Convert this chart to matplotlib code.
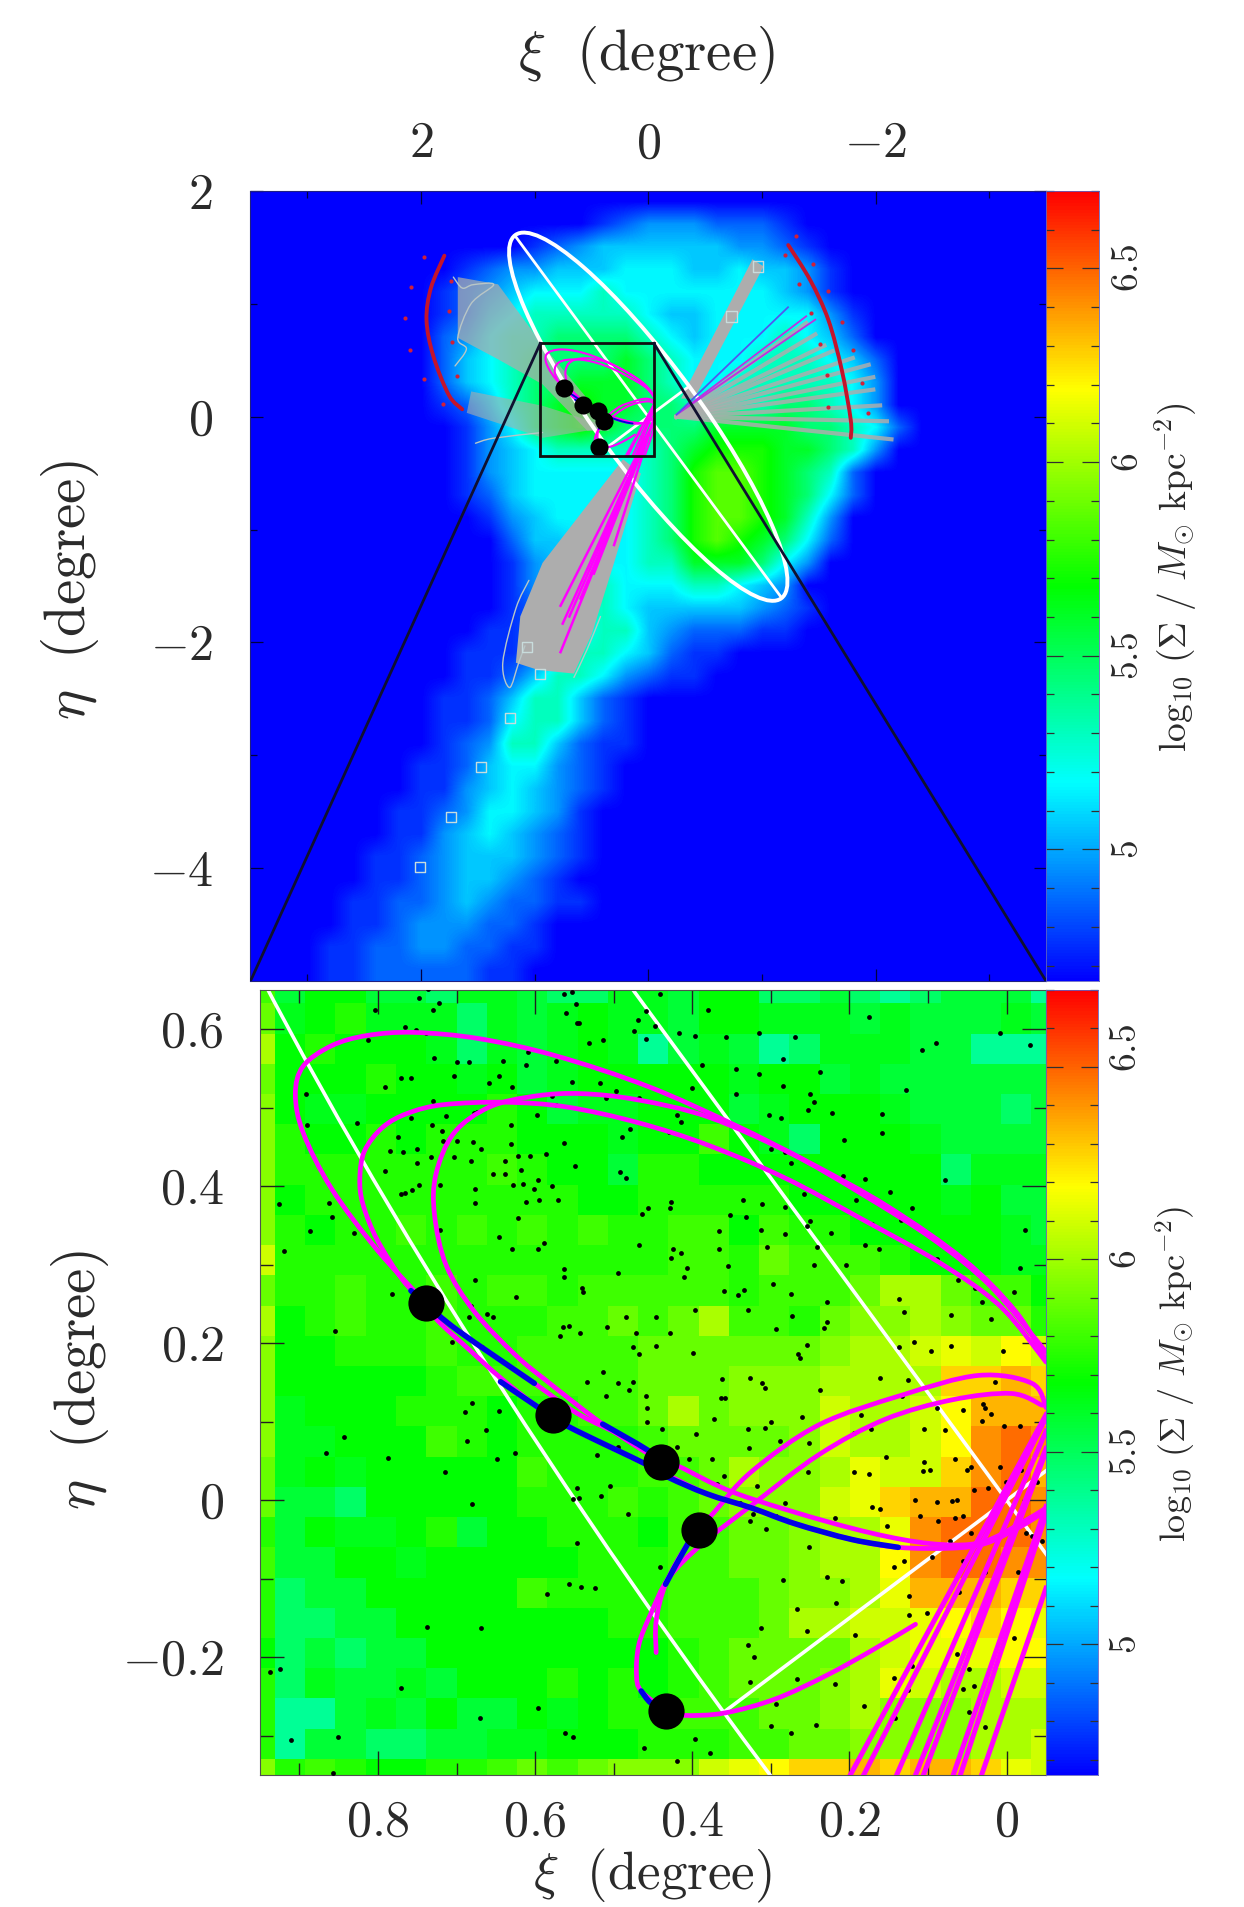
import numpy as np
import matplotlib
matplotlib.use("Agg")
import matplotlib.pyplot as plt
from matplotlib.colors import LinearSegmentedColormap
from matplotlib.patches import Ellipse, PathPatch, Polygon, Rectangle
from matplotlib.path import Path
from matplotlib.ticker import FixedLocator

plt.rcParams['mathtext.fontset'] = 'cm'
plt.rcParams['font.family'] = ['cmr10', 'DejaVu Sans']
plt.rcParams['axes.formatter.use_mathtext'] = True

# ---------------- colour scale ----------------
SIGMA_MIN, SIGMA_MAX = 4.66, 6.70
BAR_TICKS = [5, 5.5, 6, 6.5]
BAR_MINOR = [4.7, 4.8, 4.9, 5.1, 5.2, 5.3, 5.4, 5.6, 5.7, 5.8, 5.9, 6.1, 6.2, 6.3, 6.4, 6.6, 6.7]

# ---------------- wide panel: log10 surface density on a 0.2 deg grid, digits decode through WIDE_LEVELS ----------------
WIDE_LEVELS = {'0': 4.66, '1': 4.76, '2': 4.86, '3': 4.96, '4': 5.06, '5': 5.16, '6': 5.30,
               '7': 5.45, '8': 5.60, '9': 5.72, 'A': 5.85, 'B': 5.95}
WIDE_ROWS = [
    "",
    "000000000000000123332221",
    "0000000000001234444443321",
    "00000000012334445554454431",
    "00000000123455565555555431",
    "000000001245666665445555531",
    "000000002356677776545556542",
    "0000000024567777876555666542",
    "0000000024567788876556666653",
    "0000000012467898877666677653",
    "00000000013578987777888877652",
    "0000000001345666667899988763",
    "000000000134555556 79AA98762".replace(" ", ""),
    "000000000124555556 79AA98752".replace(" ", ""),
    "00000000001345555 679AA9863".replace(" ", ""),
    "00000000000244555 679A98752".replace(" ", ""),
    "0000000000013455566888753",
    "000000000001345655566543",
    "0000000000012456544444321",
    "000000000011245664322211",
    "000000000111246654211",
    "00000000011246653211",
    "00000000112466421",
    "00000000112566421",
    "000000001236642110",
    "0000000112455321",
    "0000000113454321",
    "000000112355431",
    "000000113454321",
    "000001123444321",
    "00000112344321",
    "000011223432211",
    "0000112333221",
    "000112233221 1".replace(" ", ""),
    "000112222211",
]

# ---------------- zoom panel: log10 surface density cells ----------------
ZOOM_LEVELS = {'a': 5.38, 'b': 5.48, 'c': 5.57, 'd': 5.63, 'e': 5.68, 'f': 5.75, 'g': 5.80, 'h': 5.88,
               'i': 5.95, 'j': 6.02, 'k': 6.09, 'l': 6.15, 'm': 6.19, 'n': 6.27, 'o': 6.34, 'p': 6.41, 'q': 6.48}
ZOOM_ROWS = [
    "gceeccbddcbbdd" + "ceebbcbabccca",
    "hdefdddbdcdedd" + "ceedddcdcccdc",
    "jefeeedbdcdeda" + "cdcabdddccaaa",
    "heeefeedecdeee" + "eedeecdcccccc",
    "ieddeeeefecdde" + "eecdeeedcccbc",
    "ifeefefffeeede" + "egedbeeedcccc",
    "ifffffffgfeecf" + "feeeeeeeebddd",
    "iefffffffffeef" + "ffffeeeeedecc",
    "ifeffgfgfgfgff" + "ggegffeeeeedc",
    "kfffffffffffff" + "ggfhgggfeeedd",
    "hffgffgfggfggg" + "ggfggghjjhgge",
    "jefgffgfffgghg" + "hjggfhiijihhf",
    "ieefffgffggggh" + "hhhhhijjklkmk",
    "ieeeeefggggggh" + "hhiiijjjjnnon",
    "ideeefffeffggh" + "jhiiikjjkmooo",
    "iddeeegfeffffg" + "hhhhikjjkmpqp",
    "hdedeeeeegfffg" + "ghjiijlkknpqo",
    "hccbeeeeefffgf" + "ghiiiklnooqqp",
    "fceddefceefffe" + "gghhijjlpqqqp",
    "gcceedeeeeefff" + "gghhijjmpqqpp",
    "fbcceeeeegffff" + "ggghiijlooonn",
    "fbbcceeeeeeeff" + "ggghjjkklmnml",
    "ebcbcceeeeeeee" + "fghhhhjklllmm",
    "fbdccdceeefefe" + "fghhhijlkjjkk",
    "faacdcecce" + "deff" + "ggghhijiiijjj",
    "faccbbccddeeef" + "ffgghhiiiijjk",
    "ifgfeeffghghii" + "iklmnnonoonlk",
]
ZOOM_XI_EDGES = [0.95] + [round(0.931 - 0.0385 * k, 4) for k in range(26)] + [-0.05]
ZOOM_ETA_EDGES = [0.65] + [round(0.633 - 0.0385 * k, 4) for k in range(26)] + [-0.35]

# ---------------- tilted disc outline ----------------
DISC_CENTRE = (0.0, 0.0)
DISC_MAJOR, DISC_MINOR, DISC_ANGLE = 3.98, 0.90, 54.0
MAJOR_AXIS_XI, MAJOR_AXIS_ETA = [1.17, -1.17], [1.60, -1.60]
MINOR_AXIS_XI, MINOR_AXIS_ETA = [0.36, -0.36], [-0.27, 0.27]

# ---------------- black clumps ----------------
CLUMP_XI = [0.739, 0.577, 0.440, 0.392, 0.434]
CLUMP_ETA = [0.251, 0.108, 0.049, -0.038, -0.268]

# ---------------- orbits (magenta) ----------------
ORBIT_A = [(.739,.251),(.801,.319),(.859,.397),(.895,.468),(.905,.517),(.895,.553),(.859,.579),(.814,.592),(.755,.596),
           (.671,.588),(.573,.566),(.456,.527),(.346,.478),(.249,.429),(.151,.374),(.054,.306),(-.011,.241),(-.05,.179)]
ORBIT_B = [(.440,.049),(.484,.079),(.547,.111),(.601,.149),(.698,.216),(.739,.251),(.768,.280),(.801,.332),(.819,.377),(.823,.410),
           (.817,.445),(.794,.475),(.762,.493),(.716,.504),(.638,.507),(.560,.501),(.469,.481),(.379,.452),(.281,.410),(.184,.358),
           (.086,.303),(.008,.247),(-.05,.176)]
ORBIT_C = [(.440,.049),(.514,.097),(.584,.151),(.625,.185),(.677,.240),(.713,.299),(.728,.364),(.726,.416),(.703,.468),(.658,.501),
           (.599,.515),(.541,.518),(.469,.510),(.379,.488),(.275,.442),(.184,.390),(.093,.332),(.021,.273),(-.05,.189)]
ORBIT_U = [(.440,.049),(.417,.043),(.345,.009),(.222,-.029),(.133,-.050),(.069,-.057),(.027,-.052),(-.015,-.031),(-.053,-.008)]
ORBIT_L = [(.739,.251),(.724,.229),(.684,.192),(.644,.156),(.597,.119),(.558,.094),(.457,.045),(.381,.008),(.324,-.010),
           (.269,-.030),(.197,-.050),(.138,-.060),(.069,-.061),(.027,-.055),(-.015,-.035),(-.053,-.012)]
ORBIT_E = [(.446,-.194),(.446,-.154),(.434,-.107),(.406,-.056),(.371,-.014),(.324,.037),(.239,.096),(.133,.134),(.036,.159),
           (-.032,.149),(-.05,.118)]
ORBIT_F = [(.434,-.268),(.465,-.243),(.471,-.222),(.468,-.184),(.453,-.145),(.430,-.099),(.388,-.056),(.324,-.006),(.239,.058),
           (.155,.103),(.069,.128),(-.006,.136),(-.045,.121)]
ORBIT_G = [(.434,-.268),(.411,-.274),(.359,-.271),(.294,-.253),(.229,-.223),(.171,-.191),(.116,-.158)]
ORBITS = [ORBIT_A, ORBIT_B, ORBIT_C, ORBIT_U, ORBIT_L, ORBIT_E, ORBIT_F, ORBIT_G]

# straight stream-bound tracks: near the centre to the panel floor
TRACK_BOTTOM_XI = [.199, .182, .140, .116, .106, .068, .059, .032]
TRACK_BOTTOM_ETA = [-.35] * 8
TRACK_TOP_XI = [-.05] * 8
TRACK_TOP_ETA = [.109, .105, .088, .066, .062, -.008, -.018, -.112]

# ---------------- blue stretches ----------------
BLUE_1 = [(.758,.267),(.739,.250),(.698,.216),(.601,.149)]
BLUE_2 = [(.644,.151),(.597,.119),(.558,.094),(.457,.045),(.430,.029),(.381,.008),(.324,-.010),(.269,-.030),(.197,-.050),(.138,-.060)]
BLUE_3 = [(.514,.097),(.457,.064),(.440,.049)]
BLUE_4 = [(.392,-.038),(.406,-.056),(.434,-.107)]
BLUE_5 = [(.465,-.243),(.453,-.258),(.434,-.268)]
BLUES = [BLUE_1, BLUE_2, BLUE_3, BLUE_4, BLUE_5]

# ---------------- wide panel overlays ----------------
GRAY_STREAM = [(.222,-.377),(.93,-1.295),(1.126,-1.77),(1.165,-2.18),(.969,-2.244),(.654,-2.276),(.497,-1.928),(.301,-1.295),(.065,-.504)]
GRAY_UPPER_LEFT = [(1.676,1.237),(1.322,1.173),(.93,.635),(.537,.161),(.34,-.124),(.537,-.124),(.93,.287),(1.322,.509),(1.676,.699)]
GRAY_LOWER_LEFT = [(1.597,.034),(1.558,.224),(.93,.097),(.34,-.092),(.93,-.187)]
GRAY_UPPER_RIGHT = [(-.289,.161),(-.917,1.395),(-1.015,1.332),(-.406,.161)]
GRAYS = [(GRAY_STREAM, 1.0), (GRAY_UPPER_LEFT, 0.72), (GRAY_LOWER_LEFT, 0.6), (GRAY_UPPER_RIGHT, 1.0)]

RAY_START_XI, RAY_START_ETA = -.25, -.0
RAY_END_XI = [-1.39, -1.47, -1.55, -1.62, -1.80, -1.94, -1.98, -1.98, -2.04, -2.10, -2.14]
RAY_END_ETA = [.83, .73, .63, .58, .52, .46, .35, .24, .10, -.04, -.20]

OUTLINE_1 = [(1.05,-1.45),(1.165,-1.70),(1.28,-2.18),(1.22,-2.40),(1.14,-2.18),(1.085,-2.03)]
OUTLINE_2 = [(.42,-1.77),(.537,-2.06),(.654,-2.31)]
OUTLINE_3 = [(1.715,1.237),(1.636,1.14),(1.54,1.17),(1.36,1.17),(1.56,1.0),(1.676,.699),(1.60,.60),(1.70,.45)]
OUTLINE_4 = [(1.52,-.235),(1.36,-.19),(.93,-.14)]
OUTLINES = [OUTLINE_1, OUTLINE_2, OUTLINE_3, OUTLINE_4]

STREAM_TRACK_START = (-.033, -.077)
STREAM_TRACK_END_XI = [.772, .753, .694, .596, .478, .301, .772]
STREAM_TRACK_END_ETA = [-1.675, -1.833, -1.77, -1.611, -1.39, -1.137, -2.086]
NE_TRACK_START = (-.25, .02)
NE_MAGENTA_END_XI = [-1.39, -1.47]
NE_MAGENTA_END_ETA = [.89, .86]
NE_BLUE_END = (-1.23, .97)

RED_ARC_LEFT = [(1.794,1.427),(1.912,1.142),(1.951,.857),(1.892,.54),(1.755,.192),(1.637,.066)]
RED_ARC_RIGHT = [(-1.232,1.521),(-1.428,1.205),(-1.585,.857),(-1.703,.414),(-1.782,-.029),(-1.782,-.187)]
RED_DOT_XI = [1.971,2.089,2.14,2.096,1.971,1.802,1.735,1.755,1.723,1.684,
              -1.302,-1.204,-1.448,-1.33,-1.585,-1.428,-1.703,-1.514,-1.801,-1.577,-1.88,-1.585,-1.931]
RED_DOT_ETA = [1.411,1.148,.873,.588,.335,.113,1.205,.936,.658,.36,
               1.601,1.436,1.357,1.18,1.11,.92,.841,.645,.588,.366,.303,.082,.034]
SQUARE_XI = [1.069,.952,1.216,1.474,1.738,2.008,-.968,-.733]
SQUARE_ETA = [-2.042,-2.278,-2.671,-3.105,-3.547,-3.99,1.332,.889]

BOX_XI, BOX_ETA = (0.95, -0.05), (-0.35, 0.65)

# ---------------- small points of the zoom panel, in 0.001 deg (xi, eta) ----------------
STARS_MDEG = [(736,651),(748,640),(722,634),(730,624),(804,624),(739,595),(752,599),(765,603),(813,586),(892,517),(890,478),(827,480),
(791,527),(771,538),(758,538),(703,540),(729,564),(700,558),(684,558),(641,560),(646,541),(609,571),(612,554),(574,560),(659,531),
(630,527),(553,533),(518,532),(497,521),(468,512),(510,512),(579,515),(573,504),(674,495),(678,493),(730,508),(758,487),(713,489),
(597,491),(631,478),(731,478),(719,470),(774,463),(717,458),(700,458),(679,457),(669,447),(784,445),(768,443),(750,447),(631,454),
(622,439),(607,439),(586,441),(563,455),(479,473),(490,463),(430,469),(414,482),(420,491),(703,437),(732,437),(682,432),(750,430),
(791,419),(748,401),(721,401),(756,395),(771,390),(765,391),(677,396),(677,379),(638,432),(638,416),(654,415),(618,421),(628,402),
(615,403),(596,408),(601,396),(579,400),(571,383),(595,382),(612,380),(622,359),(549,426),(492,418),(484,411),(456,372),(464,365),
(427,380),(429,372),(396,592),(417,595),(459,587),(474,598),(514,586),(531,582),(561,621),(547,608),(544,608),(469,612),(459,623),
(448,604),(441,645),(380,624),(563,645),(553,647),(548,632),(357,590),(315,595),(269,590),(175,616),(108,574),(90,582),(9,595),
(-30,580),(388,554),(344,549),(315,543),(285,562),(238,546),(285,528),(345,517),(401,525),(250,517),(245,507),(253,497),(303,491),
(287,487),(222,493),(159,492),(159,468),(128,523),(207,459),(300,448),(282,443),(274,429),(180,409),(208,413),(79,408),(149,393),
(121,372),(258,390),(311,377),(336,383),(352,364),(332,361),(282,374),(250,356),(254,349),(366,343),(312,344),(282,339),(223,340),
(192,382),(171,352),(134,357),(-23,344),(241,322),(305,322),(366,320),(180,325),(162,320),(204,300),(245,300),(89,307),(-17,296),
(62,280),(40,270),(-9,265),(32,252),(137,257),(131,240),(71,236),(20,231),(228,253),(228,227),(274,263),(273,235),(297,275),(334,268),
(342,261),(360,266),(329,242),(293,218),(232,220),(355,299),(427,309),(414,315),(425,320),(407,296),(410,285),(468,325),(494,289),
(563,294),(563,284),(540,270),(539,265),(624,259),(565,221),(557,222),(543,213),(568,209),(508,221),(484,234),(472,213),(446,234),
(446,197),(428,213),(396,242),(399,187),(137,195),(118,201),(96,190),(71,197),(5,190),(263,181),(266,186),(254,198),(475,195),(468,186),
(677,280),(682,247),(684,234),(661,237),(654,234),(782,263),(854,216),(706,201),(667,195),(926,377),(862,379),(859,361),(886,343),
(919,318),(831,341),(721,344),(646,335),(630,320),(589,328),(596,320),(514,164),(495,149),(534,151),(475,151),(510,133),(481,140),
(459,133),(457,118),(458,100),(438,91),(395,84),(420,68),(373,104),(364,130),(358,130),(362,155),(326,156),(311,149),(308,143),(300,100),
(308,92),(260,106),(238,140),(251,73),(288,75),(328,67),(329,91),(375,53),(404,52),(360,31),(318,18),(253,36),(194,86),(173,91),(185,109),
(161,156),(126,153),(133,133),(89,117),(56,115),(15,151),(30,123),(27,118),(20,110),(32,101),(4,94),(79,89),(105,91),(-17,95),(105,49),
(98,38),(106,37),(154,55),(194,36),(175,34),(66,53),(46,42),(50,39),(9,42),(1,23),(-18,39),(-38,23),(69,-1),(63,0),(89,-2),(117,0),
(110,-20),(87,-26),(66,-23),(56,-20),(41,13),(24,16),(171,-8),(161,-11),(152,-33),(219,-23),(251,-60),(282,-3),(294,-20),(323,-18),
(326,-27),(306,-36),(271,-29),(339,-3),(368,21),(482,-18),(547,-54),(552,2),(544,3),(547,15),(516,5),(505,18),(521,58),(495,68),(625,60),
(648,52),(680,-5),(714,36),(787,54),(866,60),(843,81),(687,76),(663,90),(646,114),(689,112),(680,124),(441,-85),(285,-102),(228,-98),
(210,-103),(217,-131),(267,-138),(313,-163),(254,-166),(193,-172),(329,-185),(321,-200),(326,-231),(267,-228),(219,-234),(293,-260),
(181,-262),(142,-278),(243,-286),(274,-297),(300,-287),(124,-122),(124,-146),(102,-143),(121,-211),(144,-226),(126,-242),(63,-196),
(48,-215),(56,-240),(48,-270),(42,-237),(-9,-176),(27,-289),(61,-117),(-15,-91),(27,-91),(56,-78),(95,-72),(131,-78),(144,-85),(46,-42),
(72,-52),(-4,-55),(-25,-42),(-32,-46),(-45,-52),(937,-219),(924,-215),(911,-306),(851,-301),(771,-239),(670,-278),(596,-265),(562,-296),
(552,-301),(462,-315),(420,-332),(397,-304),(378,-322),(857,-348),(737,-161),(669,-163),(585,-120),(557,-107),(542,-110),(524,-112)]

XI_LABEL = r'$\xi\ \ (\mathrm{degree})$'
ETA_LABEL = r'$\eta\ \ (\mathrm{degree})$'
BAR_LABEL = r'$\log_{10}\,(\Sigma\ /\ M_{\odot}\ \mathrm{kpc}^{-2})$'

# ---------------- helpers ----------------
W, H = 1244, 1907
def box(l, t, r, b):
    return [l / W, 1 - b / H, (r - l) / W, (b - t) / H]

def curve(ax, pts, **kw):
    p = np.asarray(pts, float)
    q = np.vstack([p[0], p, p[-1]])
    verts, codes = [tuple(p[0])], [Path.MOVETO]
    for i in range(1, len(q) - 2):
        c1 = q[i] + (q[i + 1] - q[i - 1]) / 6
        c2 = q[i + 1] - (q[i + 2] - q[i]) / 6
        verts += [tuple(c1), tuple(c2), tuple(q[i + 1])]
        codes += [Path.CURVE4] * 3
    ax.add_patch(PathPatch(Path(verts, codes), fill=False, capstyle='round', joinstyle='round', **kw))

cmap = LinearSegmentedColormap.from_list('rb', ['#0000ff', '#00ffff', '#00ff00', '#ffff00', '#ff0000'], N=256)
FS = 36
TEXT = '#2a2a2a'

fig = plt.figure(figsize=(W / 100, H / 100), dpi=100, facecolor='white')

# ---------------- wide panel ----------------
ax = fig.add_axes(box(250.5, 191, 1046, 981))
grid = np.array([[WIDE_LEVELS[ch] for ch in r.ljust(35, '0')[:35]] for r in WIDE_ROWS])
ax.imshow(grid, extent=(3.5, -3.5, -5, 2), origin='upper', cmap=cmap, vmin=SIGMA_MIN, vmax=SIGMA_MAX,
          interpolation='bilinear', aspect='auto', zorder=1)
for g, a in GRAYS:
    ax.add_patch(Polygon(g, closed=True, fc='#adadad', ec='none', alpha=a, zorder=2))
for xe, ye in zip(RAY_END_XI, RAY_END_ETA):
    ax.plot([RAY_START_XI, xe], [RAY_START_ETA, ye], color='#adadad', lw=3.0, alpha=.85, zorder=2)
for o in OUTLINES:
    curve(ax, o, ec='#b9c6c6', lw=1.0, zorder=2)
ax.scatter(SQUARE_XI, SQUARE_ETA, marker='s', s=55, facecolors='none', edgecolors='#c8dcdc', linewidths=1.0, zorder=3)
ax.add_patch(Ellipse(DISC_CENTRE, DISC_MAJOR, DISC_MINOR, angle=DISC_ANGLE, fill=False, ec='white', lw=2.8, zorder=4))
ax.plot(MAJOR_AXIS_XI, MAJOR_AXIS_ETA, color='white', lw=2, zorder=4)
ax.plot(MINOR_AXIS_XI, MINOR_AXIS_ETA, color='white', lw=2, zorder=4)
curve(ax, RED_ARC_LEFT, ec='#c4142c', lw=2.8, zorder=5)
curve(ax, RED_ARC_RIGHT, ec='#c4142c', lw=2.8, zorder=5)
ax.scatter(RED_DOT_XI, RED_DOT_ETA, s=9, color='#d0203a', zorder=5, linewidths=0)
for o in ORBITS:
    curve(ax, o, ec='#ff00ff', lw=1.5, zorder=6)
for xe, ye in zip(STREAM_TRACK_END_XI, STREAM_TRACK_END_ETA):
    ax.plot([STREAM_TRACK_START[0], xe], [STREAM_TRACK_START[1], ye], color='#ff00ff', lw=1.8, zorder=6)
for xb, yb, xt, yt in zip(TRACK_BOTTOM_XI, TRACK_BOTTOM_ETA, TRACK_TOP_XI, TRACK_TOP_ETA):
    ax.plot([xb, xt], [yb, yt], color='#ff00ff', lw=1.5, zorder=6)
for xe, ye in zip(NE_MAGENTA_END_XI, NE_MAGENTA_END_ETA):
    ax.plot([NE_TRACK_START[0], xe], [NE_TRACK_START[1], ye], color='#c030e0', lw=1.3, zorder=6)
ax.plot([NE_TRACK_START[0], NE_BLUE_END[0]], [NE_TRACK_START[1], NE_BLUE_END[1]], color='#5058f0', lw=1.3, zorder=6)
for b in BLUES:
    curve(ax, b, ec='#0000e0', lw=1.4, zorder=7)
ax.scatter(CLUMP_XI, CLUMP_ETA, s=170, color='black', zorder=8, linewidths=0)
ax.add_patch(Rectangle((BOX_XI[1], BOX_ETA[0]), BOX_XI[0] - BOX_XI[1], BOX_ETA[1] - BOX_ETA[0],
                       fill=False, ec='#101010', lw=2.0, zorder=9))
ax.plot([BOX_XI[0], 3.5], [BOX_ETA[1], -5], color='#101030', lw=2.0, zorder=9)
ax.plot([BOX_XI[1], -3.5], [BOX_ETA[1], -5], color='#101030', lw=2.0, zorder=9)
ax.set_xlim(3.5, -3.5); ax.set_ylim(-5, 2)
ax.set_xticks([2, 0, -2]); ax.set_xticklabels([r'$2$', r'$0$', r'$-2$'], color=TEXT)
ax.set_yticks([2, 0, -2, -4]); ax.set_yticklabels([r'$2$', r'$0$', r'$-2$', r'$-4$'], color=TEXT)
ax.xaxis.set_minor_locator(FixedLocator([3, 1, -1, -3]))
ax.yaxis.set_minor_locator(FixedLocator([1, -1, -3]))
ax.tick_params(which='both', direction='in', top=True, right=True, bottom=True, left=True, labeltop=True, labelbottom=False,
               color='#000040', width=0.9)
ax.tick_params(which='major', length=9, labelsize=FS)
ax.tick_params(axis='x', which='major', pad=17)
ax.tick_params(axis='y', which='major', pad=27)
ax.tick_params(which='minor', length=5)
for s in ax.spines.values():
    s.set_linewidth(0.8); s.set_color('#202080')

# ---------------- zoom panel ----------------
az = fig.add_axes(box(260, 990, 1046, 1775))
cells = np.array([[ZOOM_LEVELS[ch] for ch in r] for r in ZOOM_ROWS])
az.pcolormesh(ZOOM_XI_EDGES, ZOOM_ETA_EDGES, cells, cmap=cmap, vmin=SIGMA_MIN, vmax=SIGMA_MAX, shading='flat', zorder=1)
az.add_patch(Ellipse(DISC_CENTRE, DISC_MAJOR, DISC_MINOR, angle=DISC_ANGLE, fill=False, ec='white', lw=2.6, zorder=2))
az.plot(MAJOR_AXIS_XI, MAJOR_AXIS_ETA, color='white', lw=2.6, zorder=2)
az.plot(MINOR_AXIS_XI, MINOR_AXIS_ETA, color='white', lw=2.6, zorder=2)
stars = np.array(STARS_MDEG, float) / 1000
az.scatter(stars[:, 0], stars[:, 1], s=12, color='black', linewidths=0, zorder=3)
for o in ORBITS:
    curve(az, o, ec='#ff00ff', lw=3.4, zorder=4)
for xb, yb, xt, yt in zip(TRACK_BOTTOM_XI, TRACK_BOTTOM_ETA, TRACK_TOP_XI, TRACK_TOP_ETA):
    az.plot([xb, xt], [yb, yt], color='#ff00ff', lw=3.6, zorder=4)
for b in BLUES:
    curve(az, b, ec='#0000e6', lw=4.0, zorder=5)
az.scatter(CLUMP_XI, CLUMP_ETA, s=680, color='black', linewidths=0, zorder=6)
az.set_xlim(0.95, -0.05); az.set_ylim(-0.35, 0.65)
az.set_xticks([0.8, 0.6, 0.4, 0.2, 0]); az.set_xticklabels([r'$0.8$', r'$0.6$', r'$0.4$', r'$0.2$', r'$0$'], color=TEXT)
az.set_yticks([0.6, 0.4, 0.2, 0, -0.2]); az.set_yticklabels([r'$0.6$', r'$0.4$', r'$0.2$', r'$0$', r'$-0.2$'], color=TEXT)
az.xaxis.set_minor_locator(FixedLocator([0.9, 0.7, 0.5, 0.3, 0.1]))
az.yaxis.set_minor_locator(FixedLocator([0.5, 0.3, 0.1, -0.1, -0.3]))
az.tick_params(which='both', direction='in', top=True, right=True, color='#202020', width=1.0)
az.tick_params(which='major', length=17, labelsize=FS)
az.tick_params(axis='x', which='major', pad=18)
az.tick_params(axis='y', which='major', pad=26)
az.tick_params(which='minor', length=9)
for s in az.spines.values():
    s.set_linewidth(0.8); s.set_color('#505050')

# ---------------- colour bars ----------------
def bar(rect, nudge):
    cb = fig.add_axes(box(*rect))
    ramp = np.linspace(SIGMA_MAX, SIGMA_MIN, 256)[:, None]
    cb.imshow(ramp, extent=(0, 1, SIGMA_MIN, SIGMA_MAX), origin='upper', cmap=cmap, vmin=SIGMA_MIN, vmax=SIGMA_MAX, aspect='auto')
    cb.set_xticks([])
    cb.set_yticks(BAR_TICKS)
    cb.set_yticklabels([])
    cb.yaxis.set_minor_locator(FixedLocator(BAR_MINOR))
    cb.tick_params(axis='y', which='both', direction='in', left=True, right=True, color='#303030', width=0.9)
    cb.tick_params(axis='y', which='major', length=12)
    cb.tick_params(axis='y', which='minor', length=6)
    for s in cb.spines.values():
        s.set_linewidth(0.6); s.set_color('#6060c0')
    for v in BAR_TICKS:
        txt = ('%g' % v)
        cb.text(1.55, v + nudge.get(v, 0), '$' + txt + '$', rotation=90, ha='center', va='center',
                fontsize=27, color=TEXT, transform=cb.get_yaxis_transform(), clip_on=False)
    return cb

bar((1046, 191, 1099, 981), {})
bar((1046, 990, 1098, 1775), {6.5: 0.05})

# ---------------- axis titles ----------------
def label(x, y, s, rot=0, fs=FS):
    fig.text(x / W, 1 - y / H, s, rotation=rot, ha='center', va='center', fontsize=fs, color=TEXT)

label(647, 55, XI_LABEL, 0, 41)
label(652, 1876, XI_LABEL, 0, 38)
label(70, 590, ETA_LABEL, 90, 41)
label(80, 1380, ETA_LABEL, 90, 41)
label(1176, 577, BAR_LABEL, 90, 27)
label(1176, 1374, BAR_LABEL, 90, 26)

fig.savefig('out.png', dpi=100, facecolor='white')
